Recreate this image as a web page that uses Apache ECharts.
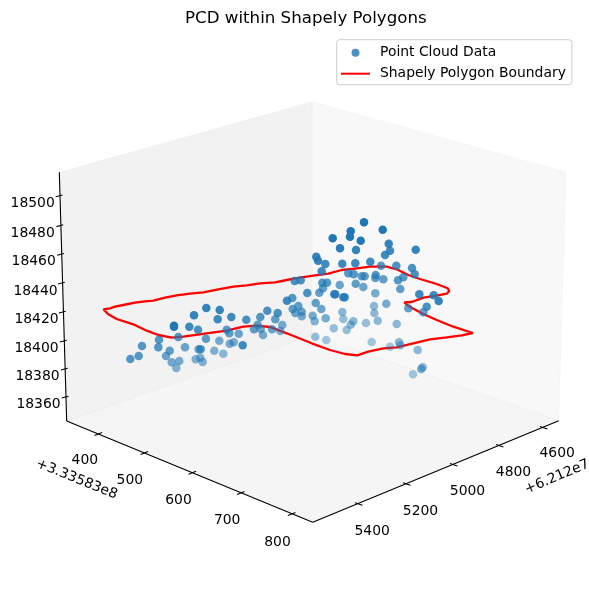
<!DOCTYPE html>
<html>
<head>
<meta charset="utf-8">
<style>html,body{margin:0;padding:0;background:#fff}#c{width:589px;height:590px}</style>
<script src="https://cdn.jsdelivr.net/npm/echarts@6/dist/echarts.min.js"></script>
</head>
<body>
<div id="c"></div>
<script>
const cloudX = [130.3,138.7,142,158.3,159,169.7,166,171.7,176.3,179.3,178.3,185,174,174,189.3,198,194,206.3,219.7,217.7,231.3,246.3,206,198.7,200.7,195.7,200.3,202.7,214.3,223.3,219.3,226.7,229.3,238.7,229.7,233.7,242.7,254,257.7,260.7,263,260.3,267.3,272,275.3,277.7,280.3,282.3,287,
364,350.7,350,332.7,360.7,382.7,340,356,388.7,390,385,415.7,316.3,318,325.3,342.3,355.3,370.3,381,396.3,412,414.7,321.7,348.3,353.7,361.7,364.7,375.7,375.3,383.3,398,403.3,294.7,300.7,322.3,327,339.7,355.7,363.3,400.3,323,319.3,307.3,334.3,335.3,343.3,344.7,375.3,419.3,433.7,438.7,292.3,315.7,386.3,374,408.3,426.7,298.3,292.7,321.3,295.3,301.7,301.7,312.7,314.7,325.7,342.3,343.3,374.3,423.3,377.7,366,353.3,350.7,346.7,333.7,396.7,315.3,326.3,371.7,390,399,400.3,417.7,422.7,421.3,413];
const cloudY = [359,356,346,347.3,339.7,350.7,356,362.3,368,361,337,347.3,326.7,325.7,326.7,329.7,315.3,308,310,319.3,317,319.7,338.7,349.3,349.3,359.3,357.7,362,350.7,353.7,340.7,329.7,333.3,333.7,343.7,342.3,345.3,329.3,324.7,329,335,317,310.7,329.3,319.3,313,331,325,300.7,
222.3,231.3,236.7,238.3,240.7,229.7,248.3,250,243.7,250.7,255,249.7,256.7,260.7,264,263.7,263.3,261.7,265.7,265.7,268,274.3,271.3,273.3,274.3,276.3,276.3,275,278,279.3,280.3,277.3,281,280.3,282.7,282.7,285,283.7,287,289,288.3,292.7,293,294.3,294.3,297.3,297.3,293.3,294.3,295.3,301,298,303,303.7,306,308.3,306.7,306,309,309,313,311.7,316.3,315.7,321.3,318.3,312,319,313,312.3,320.7,323,321.3,324.7,330,328.3,324,336.7,340,342,346.7,342.3,345.3,350,367.3,369,374.3];
const cloudShade = [.75,.75,.75,.75,.75,.7,.65,.6,.55,.6,.75,.65,1,1,.85,.8,.9,.9,.9,.85,.85,.8,.7,.65,.75,.55,.55,.55,.55,.5,.6,.7,.7,.65,.6,.6,.85,.7,.7,.65,.6,.75,.8,.65,.7,.8,.55,.6,.85,
1,1,1,1,.98,1,.95,.9,.9,.85,.85,.9,.9,.9,.85,.85,.85,.85,.75,.8,.8,.8,.85,.75,.75,.7,.7,.75,.7,.7,.75,.75,.8,.8,.75,.75,.65,.7,.65,.7,.7,.7,.8,.8,.8,.8,.8,.6,.85,.85,.9,.75,.7,.6,.5,.7,.8,.7,.7,.65,.65,.65,.6,.6,.55,.6,.5,.45,.5,.7,.5,.45,.5,.5,.45,.45,.5,.45,.4,.4,.4,.5,.5,.5,.5,.6,.4];

const boundaryX = [103.3,110,115,123.3,135,145,153.3,165,176.7,190,203.3,218.3,233.3,246.7,260,275,286.7,295,313.3,328.3,341.7,355,370,386.7,396.7,408.3,420,436.7,447.7,449.3,446.7,436.7,423.3,411.7,404.3,408.3,423.3,436.7,453.3,472.7,461.7,446.7,430,413.3,396.7,383.3,368.3,357.3,345,330,311.7,296.7,286.7,270,256.7,243.3,226.7,206.7,183.3,171.7,158.3,146.7,133.3,116.7,108.3,103.3];
const boundaryY = [309.3,308.3,306.7,305,302.7,301.3,300.7,297.7,295.3,293.7,292.3,289.3,286.7,285.3,283.3,282.3,280,278.3,275.7,273.7,270,268.7,266.7,266.7,269.3,275,279,284,288.3,291,293.7,295.7,297.7,302,302.3,306,314,320,326.7,333,335.3,337.3,339.3,343.3,347.3,348.3,351.7,355.3,354,350,343.3,337.3,333.3,327,325.7,326.7,330.7,333.3,336.7,337.7,335,330.7,324.3,319,314.3,309.3];

const paneLeft  = [[59.3,172.3],[312.3,101.7],[312.3,335],[66.7,421]];
const paneRight = [[312.3,101.7],[566,172.3],[558.7,420.7],[312.3,335]];
const paneFloor = [[66.7,421],[312.3,335],[558.7,420.7],[312.7,522.3]];

const axisPath = [[59.3,172.3],[66.7,421],[312.7,522.3],[558.7,420.7]];

const zTickLabels = ['18500','18480','18460','18440','18420','18400','18380','18360'];
const zTickAt = [[59.3,195.8],[60,225.6],[60.7,254.3],[61.6,283],[62.5,312],[63.5,341],[64.5,369],[65.3,397]];
const zLabelAt = [[32.7,203],[32.7,233],[33.7,261.3],[35.5,291],[36.5,319],[36.5,348],[37.5,376],[38.5,404]];

const leftTickLabels = ['400','500','600','700','800'];
const leftTickAt = [[98.3,434],[144.3,453],[192.3,472.7],[240.7,493],[291.7,514]];
const leftLabelAt = [[84.8,460.3],[129.8,480.3],[178.5,500],[227.2,520],[277.5,542]];

const rightTickLabels = ['5400','5200','5000','4800','4600'];
const rightTickAt = [[358.7,504],[406.7,484],[453.7,464.7],[499.7,445.7],[543.7,427.7]];
const rightLabelAt = [[372.2,531],[420.5,511.3],[467.5,491],[513.5,472],[557.2,453]];

const offsetTexts = [{t:'+3.33583e8',p:[76.7,479.3],r:-22},{t:'+6.212e7',p:[557,477],r:23}];

const font = 'DejaVu Sans';
const chart = echarts.init(document.getElementById('c'), null, {renderer:'canvas'});

const cloud = cloudX.map((x,i)=>({value:[x,cloudY[i]],itemStyle:{opacity:cloudShade[i]},s:cloudShade[i]}))
  .sort((a,b)=>a.s-b.s);
const boundary = boundaryX.map((x,i)=>[x,boundaryY[i]]);

function polyItem(pts,fill,api){
  return {type:'polygon',shape:{points:pts.map(p=>api.coord(p))},style:{fill:fill,stroke:'rgba(0,0,0,0.025)',lineWidth:1},silent:true};
}
const segs = [];
axisPath.slice(0,-1).forEach((p,i)=>segs.push([p,axisPath[i+1]]));
zTickAt.forEach(p=>segs.push([[p[0]-3.6,p[1]+1],[p[0]+3.2,p[1]-.8]]));
leftTickAt.forEach(p=>segs.push([[p[0]-3.8,p[1]+1.5],[p[0]+3.8,p[1]-1.5]]));
rightTickAt.forEach(p=>segs.push([[p[0]-3.7,p[1]-1.2],[p[0]+3.7,p[1]+1.2]]));

const texts = [];
zTickLabels.forEach((t,i)=>texts.push({t,p:zLabelAt[i],r:0}));
leftTickLabels.forEach((t,i)=>texts.push({t,p:leftLabelAt[i],r:0}));
rightTickLabels.forEach((t,i)=>texts.push({t,p:rightLabelAt[i],r:0}));
offsetTexts.forEach(o=>texts.push(o));

chart.setOption({
  animation:false,
  backgroundColor:'#fff',
  title:{text:'PCD within Shapely Polygons',left:185,top:10.5,padding:0,
    textStyle:{fontFamily:font,fontSize:16.67,fontWeight:'normal',color:'#000'}},
  legend:{orient:'vertical',left:336.7,top:39.7,padding:[6,6,4,4.3],itemWidth:29,itemHeight:8,itemGap:7,
    backgroundColor:'#fff',borderColor:'#ccc',borderWidth:1,borderRadius:3,
    textStyle:{fontFamily:font,fontSize:13.9,color:'#000',padding:[0,0,0,5]},
    data:[{name:'Point Cloud Data',icon:'circle'},{name:'Shapely Polygon Boundary',icon:'path://M0 0H29V2H0Z'}]},
  grid:{left:0,right:0,top:0,bottom:0},
  xAxis:{type:'value',min:0,max:589,show:false},
  yAxis:{type:'value',min:0,max:590,inverse:true,show:false},
  series:[
    {type:'custom',silent:true,z:1,clip:false,data:[0],
     renderItem:(p,api)=>({type:'group',children:[
       polyItem(paneLeft,'#f2f2f2',api),polyItem(paneRight,'#f8f8f8',api),polyItem(paneFloor,'#f5f5f5',api)]})},
    {type:'custom',silent:true,z:2,clip:false,data:[0],
     renderItem:(p,api)=>({type:'group',children:segs.map(s=>{
       const a=api.coord(s[0]),b=api.coord(s[1]);
       return {type:'line',shape:{x1:a[0],y1:a[1],x2:b[0],y2:b[1]},style:{stroke:'#000',lineWidth:1.1}};})})},
    {type:'custom',silent:true,z:3,clip:false,data:[0],
     renderItem:(p,api)=>({type:'group',children:texts.map(o=>{
       const a=api.coord(o.p);
       return {type:'text',x:a[0],y:a[1],rotation:o.r*Math.PI/180,
         style:{text:o.t,fill:'#000',font:'13.9px "DejaVu Sans"',align:'center',verticalAlign:'middle'}};})})},
    {type:'line',name:'Shapely Polygon Boundary',z:4,data:boundary,showSymbol:false,symbol:'none',smooth:false,
     lineStyle:{color:'#ff0000',width:2.3},itemStyle:{color:'#ff0000'},clip:false},
    {type:'scatter',name:'Point Cloud Data',z:5,data:cloud,symbolSize:8.5,itemStyle:{color:'#1f77b4'},clip:false}
  ]
});
</script>
</body>
</html>
